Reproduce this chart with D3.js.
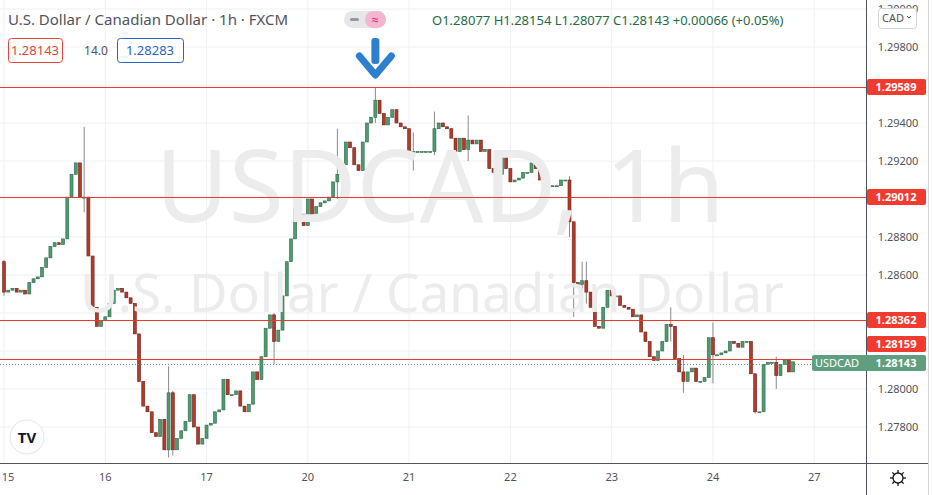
<!DOCTYPE html>
<html><head><meta charset="utf-8">
<script src="https://cdn.jsdelivr.net/npm/d3@7"></script>
<style>body{margin:0;background:#fff;font-family:"Noto Sans",Roboto,sans-serif}</style>
</head><body><svg id="c" width="932" height="495"></svg>
<script>
// hourly closes
const firstOpen = 1.2867;
const closes = [
  1.2851,1.2852,1.2853,1.2851,1.2852,1.2850,1.2856,1.2858,1.2859,1.2864,1.2869,1.2875,1.2877,1.2876,1.2879,1.2901,1.2913,1.2919,1.2901,1.2901,1.2870,1.2843,1.2833,1.2836,
  1.2838,1.2845,1.2852,1.2853,1.2851,1.2848,1.2845,1.2829,1.2804,1.2791,1.2788,1.2777,1.2775,1.2784,1.2768,1.2798,1.2768,1.2774,1.2778,1.2783,1.2797,1.2780,1.2771,1.2774,
  1.2781,1.2782,1.2788,1.2789,1.2805,1.2797,1.2797,1.2799,1.2791,1.2788,1.2792,1.2809,1.2805,1.2817,1.2832,1.2839,1.2825,1.2831,1.2849,1.2867,1.2879,1.2895,1.2892,1.2886,
  1.2900,1.2889,1.2896,1.2898,1.2899,1.2901,1.2909,1.2913,1.2918,1.2930,1.2927,1.2918,1.2915,1.2930,1.2940,1.2943,1.2952,1.2945,1.2939,1.2943,1.2947,1.2940,
  1.2938,1.2937,1.2923,1.2925,1.2925,1.2925,1.2925,1.2925,1.2937,1.2940,1.2938,1.2937,1.2932,1.2925,1.2932,1.2926,1.2931,1.2929,1.2931,1.2925,
  1.2926,1.2916,1.2914,1.2913,1.2923,1.2916,1.2909,1.2910,1.2911,1.2914,1.2914,1.2919,1.2916,1.2910,1.2906,1.2907,1.2907,1.2907,1.2910,1.2910,
  1.2888,1.2856,1.2855,1.2857,1.2851,1.2843,1.2833,1.2832,1.2843,1.2852,1.2849,1.2849,1.2844,1.2843,1.2842,1.2838,1.2839,1.2830,1.2825,1.2817,
  1.2815,1.2820,1.2825,1.2834,1.2833,1.2816,1.2809,1.2804,1.2809,1.2811,1.2804,1.2804,1.2806,1.2827,1.2818,1.2818,1.2819,1.2820,1.2825,1.2824,
  1.2822,1.2825,1.2825,1.2808,1.2788,1.2788,1.2813,1.2814,1.2814,1.2807,1.2813,1.2815,1.2809,1.28143
];
// notable wick extremes: [index, high, low]
const wicks = [[0,1.2868,1.2849],[19,1.2938,1.2893],[39,1.2812,1.2764],[40,1.2799,1.2765],[64,1.2840,1.2813],
  [79,1.2937,1.2900],[88,1.29589,1.2940],[97,1.2935,1.2915],[102,1.2946,1.2923],[110,1.2944,1.2920],
  [134,1.2912,1.2880],[135,1.2888,1.2838],[137,1.2867,1.2848],[138,1.2867,1.2845],[158,1.2843,1.2825],
  [161,1.2818,1.2798],[168,1.2835,1.2803],[178,1.2808,1.2787],[183,1.2817,1.2800]];
const priceTicks = [1.278,1.280,1.282,1.284,1.286,1.288,1.290,1.292,1.294,1.296,1.298,1.300];
const dayLabels = ['15','16','17','20','21','22','23','24','27'];
const levels = [1.29589,1.29012,1.28362,1.28159];
const lastPrice = 1.28143;

const W = 866, H = 463;
const svg = d3.select('#c');
const y = d3.scaleLinear().domain([1.278, 1.298]).range([427, 47]);
const x = d3.scaleLinear().domain([0, 1]).range([4, 8.22]);
const fmt = d3.format('.5f');

const candles = closes.map((c, i) => {
  const o = i === 0 ? firstOpen : closes[i - 1];
  const w = wicks.find(k => k[0] === i);
  return { i, o, c, h: Math.max(o, c, w ? w[1] : 0), l: Math.min(o, c, w ? w[2] : 9) };
});

// label positions on the price axis (the lowest level is pushed up to clear the last price)
const labelY = levels.map(v => Math.round(y(v)) - (v === 1.28159 ? 15 : 0));
const lastY = Math.round(y(lastPrice)) + 1;

// grid
const plot = svg.append('g');
plot.selectAll('.hg').data(priceTicks).enter().append('line')
  .attr('x1', 0).attr('x2', W).attr('y1', d => y(d)).attr('y2', d => y(d))
  .attr('stroke', '#eef0f4');
plot.selectAll('.vg').data(dayLabels).enter().append('line')
  .attr('x1', (d, i) => x(i * 24)).attr('x2', (d, i) => x(i * 24)).attr('y1', 0).attr('y2', H)
  .attr('stroke', '#eef0f4');

// watermark
svg.append('text').attr('x', 440).attr('y', 222).attr('text-anchor', 'middle')
  .attr('font-size', 100).attr('fill', '#ececec').text('USDCAD, 1h');
svg.append('text').attr('x', 432).attr('y', 312).attr('text-anchor', 'middle')
  .attr('font-size', 53).attr('fill', '#ececec').text('U.S. Dollar / Canadian Dollar');

// candles
const cg = plot.selectAll('.cd').data(candles).enter().append('g');
cg.append('line').attr('x1', d => x(d.i)).attr('x2', d => x(d.i))
  .attr('y1', d => y(d.h)).attr('y2', d => y(d.l)).attr('stroke', '#8a8a8a');
cg.append('rect').attr('x', d => x(d.i) - 1.5).attr('width', 3)
  .attr('y', d => y(Math.max(d.o, d.c)))
  .attr('height', d => Math.max(1, Math.abs(y(d.o) - y(d.c))))
  .attr('fill', d => d.c >= d.o ? '#4f9a70' : '#b23a2a')
  .attr('stroke', d => d.c >= d.o ? '#2f6a4a' : '#6e2218').attr('stroke-width', 0.6);

// level lines
svg.selectAll('.lv').data(levels).enter().append('rect')
  .attr('x', 0).attr('width', W).attr('y', d => Math.round(y(d))).attr('height', 1)
  .attr('fill', '#e53b30');
svg.append('line').attr('x1', 0).attr('x2', W).attr('y1', lastY + 1.5).attr('y2', lastY + 1.5)
  .attr('stroke', '#5b9b7a').attr('stroke-dasharray', '1,2');

// axes frame
svg.append('line').attr('x1', W + 0.5).attr('x2', W + 0.5).attr('y1', 0).attr('y2', 495).attr('stroke', '#50535e');
svg.append('line').attr('x1', 0).attr('x2', 928).attr('y1', H + 0.5).attr('y2', H + 0.5).attr('stroke', '#50535e');
svg.append('line').attr('x1', 928.5).attr('x2', 928.5).attr('y1', 0).attr('y2', 495).attr('stroke', '#d6d6d6');

const busy = labelY.concat([lastY]);
svg.selectAll('.pt').data(priceTicks.filter(d => busy.every(b => Math.abs(b - y(d)) > 12))).enter().append('text')
  .attr('x', 898).attr('y', d => y(d) + 4).attr('text-anchor', 'middle')
  .attr('font-size', 11).attr('fill', '#50535e').text(d => fmt(d));
svg.selectAll('.dl').data(dayLabels).enter().append('text')
  .attr('x', (d, i) => Math.max(8, x(i * 24))).attr('y', 481).attr('text-anchor', 'middle')
  .attr('font-size', 11).attr('fill', '#50535e').text(d => d);

// price labels
levels.forEach((v, k) => {
  const yy = labelY[k];
  svg.append('rect').attr('x', 867).attr('y', yy - 8).attr('width', 59).attr('height', 16).attr('rx', 2).attr('fill', '#f23b2f');
  svg.append('text').attr('x', 896).attr('y', yy + 4).attr('text-anchor', 'middle').attr('font-size', 11)
    .attr('font-weight', 'bold').attr('fill', '#fff').text(fmt(v));
});
svg.append('rect').attr('x', 812).attr('y', lastY - 8).attr('width', 114).attr('height', 16).attr('rx', 2).attr('fill', '#5f9e7e');
svg.append('text').attr('x', 837).attr('y', lastY + 4).attr('text-anchor', 'middle').attr('font-size', 11).attr('fill', '#fff').text('USDCAD');
svg.append('text').attr('x', 896).attr('y', lastY + 4).attr('text-anchor', 'middle').attr('font-size', 11).attr('font-weight', 'bold').attr('fill', '#fff').text(fmt(lastPrice));

// CAD dropdown
svg.append('rect').attr('x', 878.5).attr('y', 8.5).attr('width', 38).attr('height', 20).attr('rx', 3).attr('fill', '#fff').attr('stroke', '#d0d3db');
svg.append('text').attr('x', 893).attr('y', 22).attr('text-anchor', 'middle').attr('font-size', 11).attr('fill', '#50535e').text('CAD');
svg.append('path').attr('d', 'M907,16 l2,2 l2,-2').attr('fill', 'none').attr('stroke', '#50535e');

// header
svg.append('text').attr('x', 8).attr('y', 25).attr('font-size', 15).attr('fill', '#50535e')
  .text('U.S. Dollar / Canadian Dollar · 1h · FXCM');
svg.append('rect').attr('x', 344).attr('y', 11).attr('width', 42).attr('height', 17).attr('rx', 8.5).attr('fill', '#e7e7ea');
svg.append('rect').attr('x', 365).attr('y', 11).attr('width', 21).attr('height', 17).attr('rx', 8.5).attr('fill', '#f5b7cf');
svg.append('rect').attr('x', 350).attr('y', 18).attr('width', 9).attr('height', 3).attr('rx', 1.5).attr('fill', '#9598a1');
svg.append('text').attr('x', 375).attr('y', 24).attr('text-anchor', 'middle').attr('font-size', 13).attr('fill', '#e0306a').text('≈');
svg.append('text').attr('x', 432).attr('y', 25).attr('font-size', 13).attr('fill', '#1f6b45')
  .text('O1.28077 H1.28154 L1.28077 C1.28143 +0.00066 (+0.05%)');

// bid / ask boxes
svg.append('rect').attr('x', 8.5).attr('y', 38.5).attr('width', 54).attr('height', 24).attr('rx', 3).attr('fill', '#fff').attr('stroke', '#e0463a');
svg.append('text').attr('x', 35).attr('y', 55).attr('text-anchor', 'middle').attr('font-size', 13).attr('fill', '#e0463a').text('1.28143');
svg.append('text').attr('x', 96).attr('y', 55).attr('text-anchor', 'middle').attr('font-size', 12).attr('fill', '#50535e').text('14.0');
svg.append('rect').attr('x', 117.5).attr('y', 38.5).attr('width', 66).attr('height', 24).attr('rx', 3).attr('fill', '#fff').attr('stroke', '#2962c4');
svg.append('text').attr('x', 150).attr('y', 55).attr('text-anchor', 'middle').attr('font-size', 13).attr('fill', '#2962c4').text('1.28283');

// arrow marker over the peak
const ax = x(88);
svg.append('rect').attr('x', ax - 4).attr('y', 38).attr('width', 8).attr('height', 26).attr('rx', 3).attr('fill', '#2f7fcf');
svg.append('path').attr('d', `M${ax - 16},56 L${ax},75 L${ax + 16},56`).attr('fill', 'none')
  .attr('stroke', '#2f7fcf').attr('stroke-width', 7).attr('stroke-linecap', 'round').attr('stroke-linejoin', 'round');

// TV logo
svg.append('circle').attr('cx', 27).attr('cy', 437).attr('r', 17).attr('fill', '#fff').attr('stroke', '#e3e3e3');
svg.append('text').attr('x', 27).attr('y', 443).attr('text-anchor', 'middle').attr('font-size', 15)
  .attr('font-weight', 'bold').attr('fill', '#131722').text('TV');

// settings icon
svg.append('circle').attr('cx', 898).attr('cy', 478).attr('r', 5).attr('fill', 'none').attr('stroke', '#131722').attr('stroke-width', 1.3);
d3.range(8).forEach(k => {
  const a = k * Math.PI / 4;
  svg.append('line').attr('x1', 898 + 5 * Math.cos(a)).attr('y1', 478 + 5 * Math.sin(a))
    .attr('x2', 898 + 8 * Math.cos(a)).attr('y2', 478 + 8 * Math.sin(a)).attr('stroke', '#131722').attr('stroke-width', 1.3);
});
</script></body></html>
